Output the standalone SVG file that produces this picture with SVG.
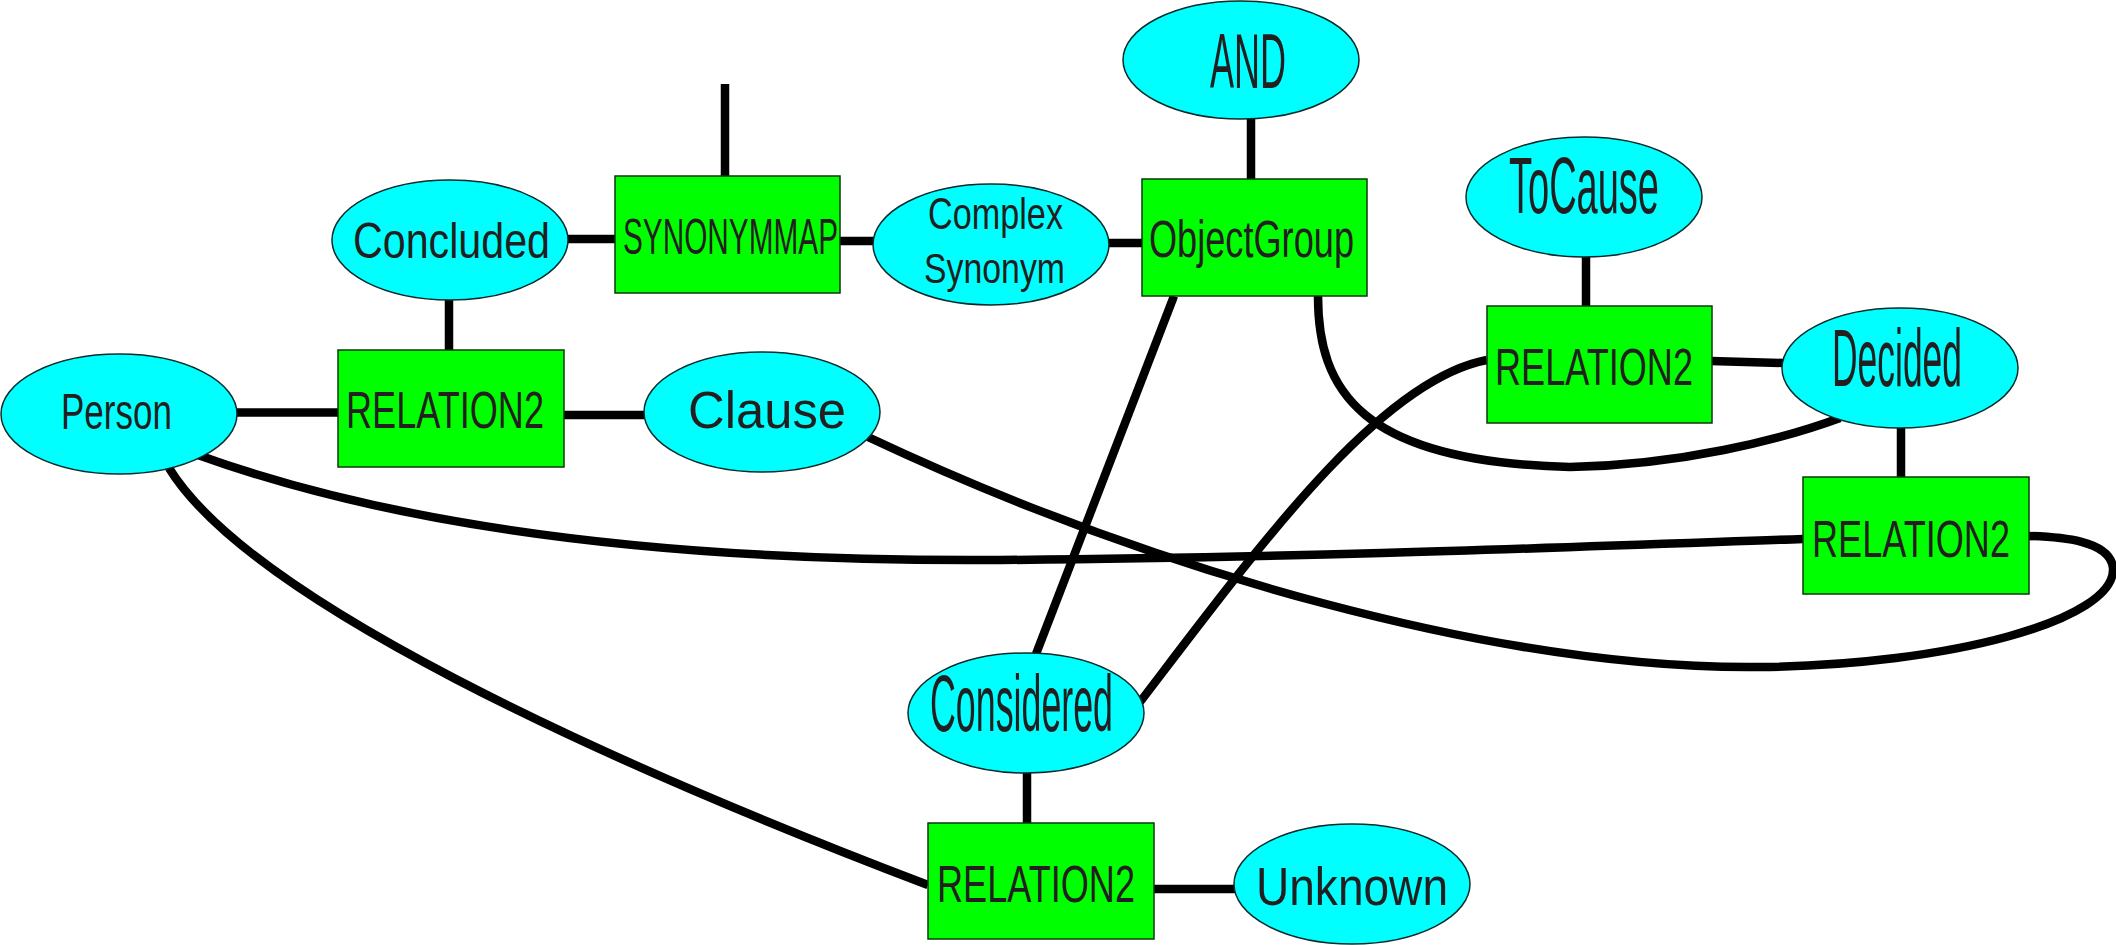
<svg xmlns="http://www.w3.org/2000/svg" width="2116" height="945" viewBox="0 0 2116 945">
<style>
.e{fill:#00ffff;stroke:#0a2a2a;stroke-width:1.5}
.r{fill:#00ff00;stroke:#0a3a0a;stroke-width:1.5}
.t{font-family:"Liberation Sans",Arial,sans-serif;fill:#231f20}
.c{fill:none;stroke:#000;stroke-width:8.5}
</style>
<rect width="2116" height="945" fill="#fff"/>
<g id="connectors">
<path class="c" d="M725,84 L725,176"/>
<path class="c" d="M567,239 L616,239"/>
<path class="c" d="M839,241 L874,241"/>
<path class="c" d="M1108,243 L1143,243"/>
<path class="c" d="M1251,119 L1251,180"/>
<path class="c" d="M449,299 L449,351"/>
<path class="c" d="M236,412.5 L339,412.5"/>
<path class="c" d="M563,415 L645,415"/>
<path class="c" d="M1174,296 L1036,654"/>
<path class="c" d="M1586,256 L1586,307"/>
<path class="c" d="M1711,361 L1783,363"/>
<path class="c" d="M1901,427 L1901,478"/>
<path class="c" d="M1027,772 L1027,824"/>
<path class="c" d="M1153,889 L1235,889"/>
<path class="c" d="M1318,296 C1318,390 1360,462 1570,467 C1680,465 1780,440 1840,418"/>
<path class="c" d="M1140,702 C1260,545 1380,380 1487,360"/>
<path class="c" d="M198,455 C420,535 700,562 1000,560 C1300,558 1600,546 1803,539"/>
<path class="c" d="M169,468 C250,600 600,760 928,885"/>
<path class="c" d="M868,437 C1150,570 1500,670 1760,667 C1950,665 2116,620 2113,568 C2110,540 2060,537 2029,536"/>
</g>
<g id="n-and"><ellipse class="e" cx="1241" cy="60" rx="118" ry="59"/><text class="t" x="1210" y="88" font-size="78" textLength="76" lengthAdjust="spacingAndGlyphs">AND</text></g>
<g id="n-objectgroup"><rect class="r" x="1142" y="179" width="225" height="117"/><text class="t" x="1149" y="257" font-size="51" textLength="205" lengthAdjust="spacingAndGlyphs">ObjectGroup</text></g>
<g id="n-complexsynonym"><ellipse class="e" cx="991" cy="244.5" rx="118" ry="60.5"/><text class="t" x="928" y="229" font-size="44" textLength="135" lengthAdjust="spacingAndGlyphs">Complex</text><text class="t" x="924" y="283" font-size="43" textLength="141" lengthAdjust="spacingAndGlyphs">Synonym</text></g>
<g id="n-synonymmap"><rect class="r" x="615" y="176" width="225" height="117"/><text class="t" x="623" y="254" font-size="50" textLength="215" lengthAdjust="spacingAndGlyphs">SYNONYMMAP</text></g>
<g id="n-concluded"><ellipse class="e" cx="450" cy="240" rx="118" ry="60"/><text class="t" x="353" y="258" font-size="50" textLength="197" lengthAdjust="spacingAndGlyphs">Concluded</text></g>
<g id="n-relation2-left"><rect class="r" x="338" y="350" width="226" height="117"/><text class="t" x="346" y="428" font-size="52" textLength="198" lengthAdjust="spacingAndGlyphs">RELATION2</text></g>
<g id="n-person"><ellipse class="e" cx="119" cy="414" rx="118" ry="60"/><text class="t" x="61" y="429" font-size="50" textLength="111" lengthAdjust="spacingAndGlyphs">Person</text></g>
<g id="n-clause"><ellipse class="e" cx="762" cy="412" rx="118" ry="60"/><text class="t" x="688" y="428" font-size="52" textLength="158" lengthAdjust="spacingAndGlyphs">Clause</text></g>
<g id="n-tocause"><ellipse class="e" cx="1584" cy="197" rx="118" ry="60"/><text class="t" x="1509" y="213" font-size="79" textLength="150" lengthAdjust="spacingAndGlyphs">ToCause</text></g>
<g id="n-relation2-topright"><rect class="r" x="1487" y="306" width="225" height="117"/><text class="t" x="1495" y="385" font-size="52" textLength="198" lengthAdjust="spacingAndGlyphs">RELATION2</text></g>
<g id="n-decided"><ellipse class="e" cx="1900" cy="368" rx="118" ry="60"/><text class="t" x="1832" y="386" font-size="82" textLength="130" lengthAdjust="spacingAndGlyphs">Decided</text></g>
<g id="n-relation2-right"><rect class="r" x="1803" y="477" width="226" height="117"/><text class="t" x="1812" y="557" font-size="52" textLength="198" lengthAdjust="spacingAndGlyphs">RELATION2</text></g>
<g id="n-considered"><ellipse class="e" cx="1026" cy="713" rx="118" ry="60"/><text class="t" x="930" y="731" font-size="80" textLength="183" lengthAdjust="spacingAndGlyphs">Considered</text></g>
<g id="n-relation2-bottom"><rect class="r" x="928" y="823" width="226" height="116"/><text class="t" x="937" y="902" font-size="52" textLength="198" lengthAdjust="spacingAndGlyphs">RELATION2</text></g>
<g id="n-unknown"><ellipse class="e" cx="1352" cy="884" rx="118" ry="60"/><text class="t" x="1256" y="905" font-size="53" textLength="192" lengthAdjust="spacingAndGlyphs">Unknown</text></g>
</svg>
